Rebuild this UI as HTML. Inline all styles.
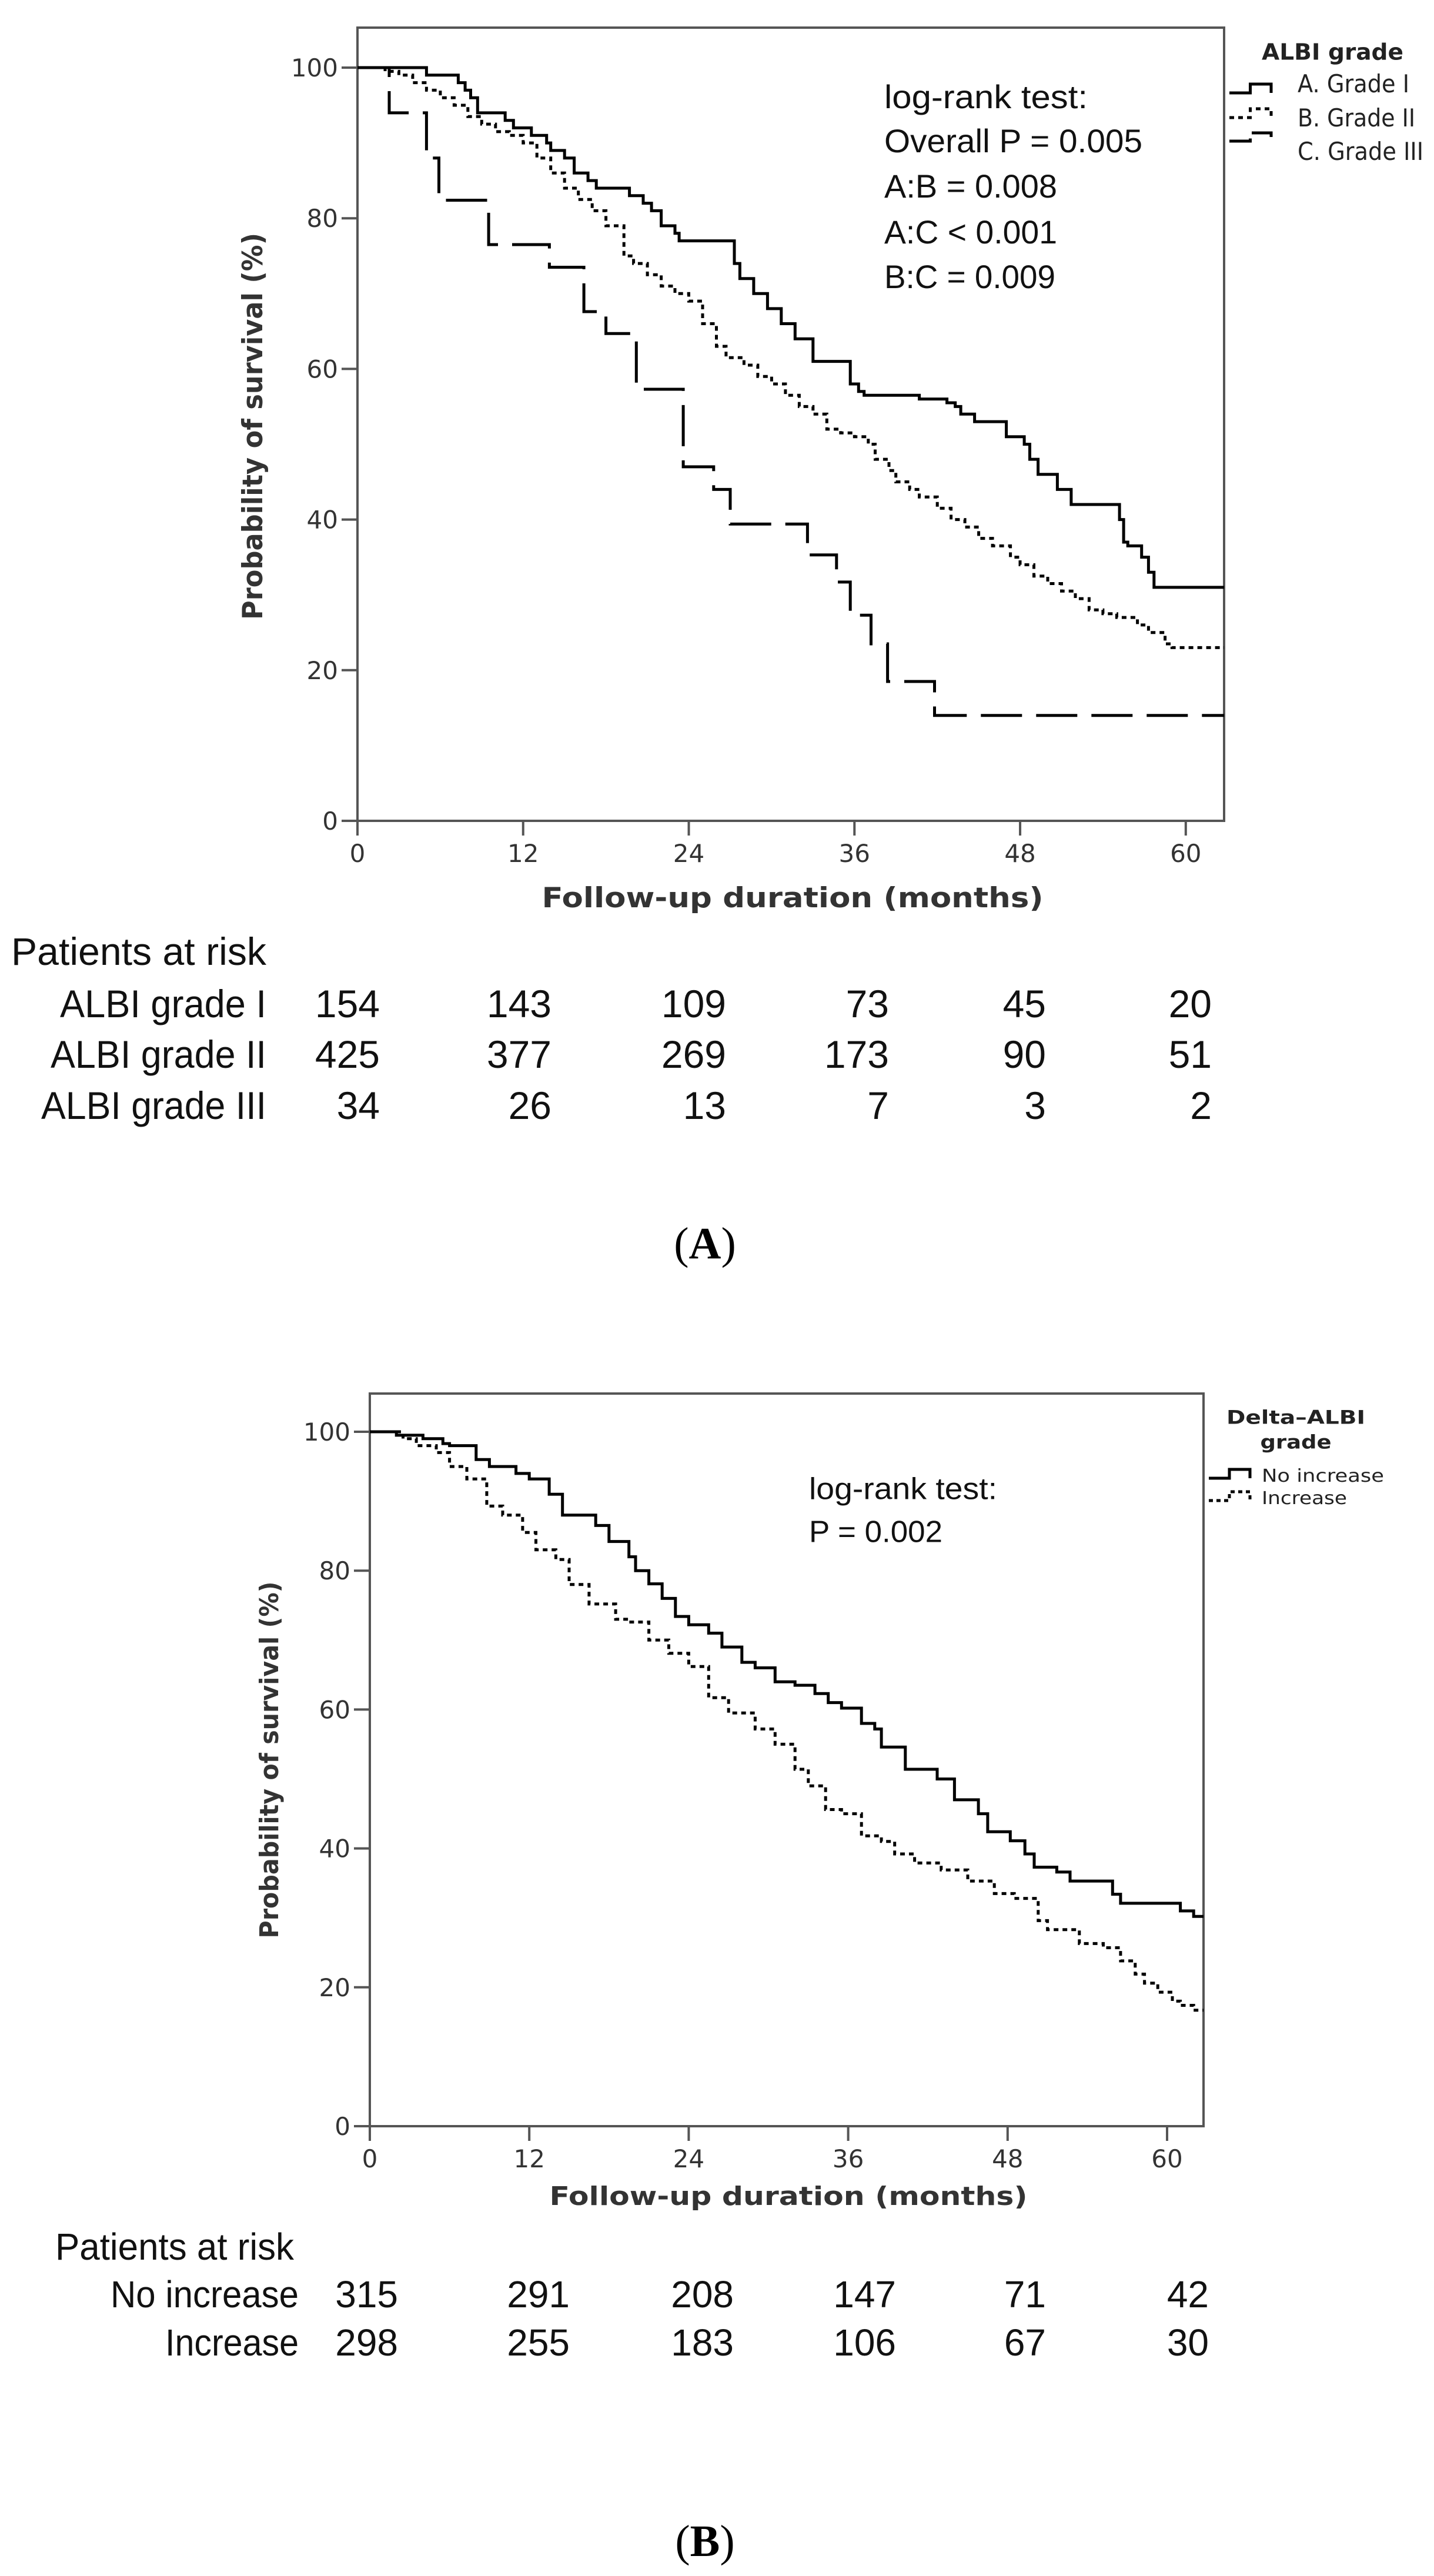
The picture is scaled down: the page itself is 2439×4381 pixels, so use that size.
<!DOCTYPE html>
<html><head><meta charset="utf-8"><style>
html,body{margin:0;padding:0;background:#fff;}
svg{display:block;}
text{fill:#222;}
.tk{font-family:"DejaVu Sans","Liberation Sans",sans-serif;font-size:42px;fill:#333;}
.ttl{font-family:"DejaVu Sans","Liberation Sans",sans-serif;font-weight:bold;fill:#333;}
.lg{font-family:"DejaVu Sans","Liberation Sans",sans-serif;fill:#222;}
.tx{font-family:"Liberation Sans",sans-serif;fill:#111;}
.cap{font-family:"Liberation Serif",serif;font-size:76px;fill:#000;}
</style></head><body>
<svg id="fig" width="2439" height="4381" viewBox="0 0 2439 4381" xmlns="http://www.w3.org/2000/svg">
<rect width="2439" height="4381" fill="#fff"/>
<g id="chartA"></g>
<g id="chartB"></g>
<text class="cap" x="1199" y="2140" text-anchor="middle">(<tspan font-weight="bold">A</tspan>)</text>
<text class="cap" x="1199" y="4347" text-anchor="middle">(<tspan font-weight="bold">B</tspan>)</text>
</svg>
<script>
// ---------- data: chart A ----------
const xTicks = [0, 12, 24, 36, 48, 60];
const yTicks = [0, 20, 40, 60, 80, 100];
const gradeI_t = [0,5,7.3,7.8,8.2,8.7,10.7,11.3,12.6,13.7,14,15,15.7,16.7,17.3,19.7,20.7,21.3,22,23,23.3,27.3,27.7,28.7,29.7,30.7,31.7,33,34,35.7,36.3,36.7,40.7,42.7,43.3,43.7,44.7,47,48.3,48.7,49.3,50.7,51.7,55.2,55.5,55.8,56.8,57.3,57.7];
const gradeI_s = [100,99,98,97,96,94,93,92,91,90,89,88,86,85,84,83,82,81,79,78,77,74,72,70,68,66,64,61,61,58,57,56.5,56,55.5,55,54,53,51,50,48,46,44,42,40,37,36.5,35,33,31];
const gradeII_t = [0,2,3,4,5,6,7,8,9,10,11,12,13,14,15,16,17,18,19.3,20,21,22,23,24,25,26,26.7,28,29,30,31,32,33,34,35,36,37,37.5,38.5,39,40,40.7,42,43,44,45,46,47.3,48,49,50,51,52,53,54,55,56.5,57.3,58.5,59];
const gradeII_s = [100,99.5,99,98,97,96,95,93.5,92.5,91.5,91,90,88,86,84,82.5,81,79,75,74,72.5,71,70,69,66,63,61.5,60.5,59,58,56.5,55,54,52,51.5,51,50,48,46.5,45,44,43,41.5,40,39,37.5,36.5,35,34,32.5,31.5,30.5,29.5,28,27.5,27,26,25,23.5,23];
const gradeIII_t = [0,2.3,5,5.9,9.5,13.9,16.4,18,20.2,23.6,25.8,27,32.6,34.7,35.7,37.2,38.4,41.8];
const gradeIII_s = [100,94,88,82.4,76.5,73.5,67.6,64.7,57.3,47,44,39.4,35.3,31.7,27.3,23.5,18.5,14];
const riskA_rows = ["ALBI grade I","ALBI grade II","ALBI grade III"];
const riskA_I = [154,143,109,73,45,20];
const riskA_II = [425,377,269,173,90,51];
const riskA_III = [34,26,13,7,3,2];
// ---------- data: chart B ----------
const noInc_t = [0,2,4,5.5,6,8,9,11,12,13.5,14.5,17,18,19.5,20,21,22,23,24,25.5,26.5,28,29,30.5,32,33.5,34.5,35.5,37,38,38.5,40.3,42.7,44,45.8,46.5,48.2,49.3,50,51.7,52.7,55.9,56.5,61,62];
const noInc_s = [100,99.5,99,98.3,98,96,95,94,93.2,91,88,86.5,84.2,82,80,78.1,76,73.4,72.2,71,69,66.8,66,64,63.5,62.3,61,60.2,58,57.2,54.6,51.4,50,47,45,42.4,41.1,39.2,37.3,36.6,35.3,33.4,32.1,31,30.2];
const inc_t = [0,2.5,3.5,5,6,7.3,8.8,10,11.5,12.5,14,15,16.5,18.5,19.5,21,22.5,24,25.5,27,29,30.5,32,33,34.3,35.5,37,38.5,39.5,41,43,45,47,48.5,50.3,51,53.4,55.2,56.5,57.6,58.3,59.3,60.4,61,62];
const inc_s = [100,99,98,97,95,93.2,89.3,88,85.5,83,81.6,78,75.2,73,72.6,70,68.1,66.2,61.7,59.5,57.2,55,51.4,49,45.6,45,41.8,41,39.2,37.9,36.9,35.3,33.5,32.8,29.6,28.3,26.3,25.7,23.8,21.9,20.6,19.3,18,17.4,16.7];
const riskB_rows = ["No increase","Increase"];
const riskB_no = [315,291,208,147,71,42];
const riskB_inc = [298,255,183,106,67,30];

const NS = "http://www.w3.org/2000/svg";
function mk(parent, tag, attrs, txt){
  const e = document.createElementNS(NS, tag);
  for (const k in attrs) e.setAttribute(k, attrs[k]);
  if (txt !== undefined) e.textContent = txt;
  parent.appendChild(e);
  return e;
}
function stepPath(t, s, X, Y, tEnd){
  let d = "M" + X(t[0]).toFixed(1) + " " + Y(s[0]).toFixed(1);
  for (let i = 1; i < t.length; i++){
    d += " H" + X(t[i]).toFixed(1) + " V" + Y(s[i]).toFixed(1);
  }
  d += " H" + X(tEnd).toFixed(1);
  return d;
}

function drawChart(g, cfg){
  const X = m => cfg.x0 + m * cfg.pxm;
  const Y = p => cfg.y0 - p * cfg.pxp;
  const tEnd = (cfg.right - cfg.x0) / cfg.pxm;
  const frame = mk(g, "rect", {x:cfg.x0, y:cfg.top, width:cfg.right-cfg.x0, height:cfg.y0-cfg.top, fill:"none", stroke:"#555", "stroke-width":4});
  
  
  yTicks.forEach(v => {
    const l = mk(g, "line", {x1:cfg.x0-27, x2:cfg.x0, y1:Y(v), y2:Y(v), stroke:"#555", "stroke-width":4});
    
    
    const t = mk(g, "text", {class:"tk", x:cfg.x0-33, y:Y(v)+15, "text-anchor":"end", "font-size":cfg.tk}, String(v));
    
    
  });
  xTicks.forEach(v => {
    const l = mk(g, "line", {x1:X(v), x2:X(v), y1:cfg.y0, y2:cfg.y0+25, stroke:"#555", "stroke-width":4});
    
    
    const t = mk(g, "text", {class:"tk", x:X(v), y:cfg.y0+70, "text-anchor":"middle", "font-size":cfg.tk}, String(v));
    
    
  });
  const xt = mk(g, "text", {class:"ttl", x:cfg.xtx, y:cfg.xty+16, "text-anchor":"middle", "font-size":cfg.tf, textLength:cfg.xtl, lengthAdjust:"spacingAndGlyphs"}, "Follow-up duration (months)");
  
  
  const yt = mk(g, "text", {class:"ttl", x:0, y:0, "text-anchor":"middle", "font-size":cfg.tf, textLength:cfg.ytl, lengthAdjust:"spacingAndGlyphs", transform:"translate("+(cfg.ytx+16)+","+cfg.yty+") rotate(-90)"}, "Probability of survival (%)");
  
  
  cfg.series.forEach(sr => {
    const p = mk(g, "path", {d:stepPath(sr.t, sr.s, X, Y, tEnd), fill:"none", stroke:"#000", "stroke-width":5, "stroke-dasharray":sr.dash, "stroke-linejoin":"miter"});
    
    
  });
  cfg.stats.forEach((s, i) => {
    const t = mk(g, "text", {class:"tx", x:cfg.sx, y:cfg.sy[i]+cfg.sf*0.36, "font-size":cfg.sf, textLength:s[1], lengthAdjust:"spacingAndGlyphs"}, s[0]);
    
    
  });
  // at-risk table
  const h = mk(g, "text", {class:"tx", x:cfg.rhx, y:cfg.rhy+cfg.rf*0.36, "font-size":cfg.rf, textLength:cfg.rhl, lengthAdjust:"spacingAndGlyphs"}, "Patients at risk");
  
  
  cfg.rows.forEach((r, i) => {
    const lab = mk(g, "text", {class:"tx", x:cfg.rlx, y:cfg.ry[i]+cfg.rf*0.36, "text-anchor":"end", "font-size":cfg.rf, textLength:cfg.rll[i], lengthAdjust:"spacingAndGlyphs"}, r);
    
    
    cfg.rvals[i].forEach((v, j) => {
      const n = mk(g, "text", {class:"tx", x:cfg.rnx[j], y:cfg.ry[i]+cfg.rf*0.36, "text-anchor":"end", "font-size":cfg.rf}, String(v));
      
      
    });
  });
}

const gA = document.getElementById("chartA");
drawChart(gA, {
  x0:608, pxm:23.48, y0:1396, pxp:12.81, top:47, right:2082, tk:43, tf:47,
  xtx:1348, xty:1527, xtl:853, ytx:430, yty:725, ytl:658,
  series:[
    {t:gradeI_t, s:gradeI_s, dash:"none", name:"curve-grade-i"},
    {t:gradeII_t, s:gradeII_s, dash:"8,7", name:"curve-grade-ii"},
    {t:gradeIII_t, s:gradeIII_s, dash:"70,24", name:"curve-grade-iii"}],
  stats:[["log-rank test:",346],["Overall P = 0.005",439],["A:B = 0.008",294],["A:C < 0.001",294],["B:C = 0.009",291]],
  sx:1504, sy:[164,239,316,394,470], sf:56,
  rhx:19, rhy:1617, rhl:434, rf:66, rlx:453, ry:[1706,1792,1879], rll:[351,367,383],
  rows:riskA_rows, rvals:[riskA_I, riskA_II, riskA_III], rnx:[646,938,1235,1512,1779,2061]
});
const gB = document.getElementById("chartB");
drawChart(gB, {
  x0:629, pxm:22.6, y0:3616, pxp:11.81, top:2370, right:2047, tk:40, tf:44,
  xtx:1341, xty:3734, xtl:813, ytx:457, yty:2993, ytl:607,
  series:[
    {t:noInc_t, s:noInc_s, dash:"none", name:"curve-no-increase"},
    {t:inc_t, s:inc_s, dash:"8,7", name:"curve-increase"}],
  stats:[["log-rank test:",320],["P = 0.002",227]],
  sx:1376, sy:[2531,2604], sf:52,
  rhx:94, rhy:3820, rhl:406, rf:64, rlx:508, ry:[3901,3983], rll:[320,227],
  rows:riskB_rows, rvals:[riskB_no, riskB_inc], rnx:[677,969,1248,1524,1779,2056]
});

// legends
function legendText(g, x, y, txt, size, w, bold, anchor, name){
  const t = mk(g, "text", {class:"lg", x:x, y:y+size*0.36, "font-size":size, textLength:w, lengthAdjust:"spacingAndGlyphs", "font-weight":bold?"bold":"normal", "text-anchor":anchor||"start"}, txt);
  
  
}
function legendSym(g, x1, x2, yl, yh, dash, name){
  const xm = (x1 + x2) / 2;
  const p = mk(g, "path", {d:"M"+x1+" "+yl+" H"+xm+" V"+yh+" H"+x2+" V"+(yl), fill:"none", stroke:"#000", "stroke-width":5, "stroke-dasharray":dash});
  
  
}
const lgA = mk(gA, "g", {});


legendText(lgA, 2146, 88, "ALBI grade", 38, 241, true, "start", "legend-title");
legendText(lgA, 2207, 142, "A. Grade I", 42, 190, false, "start", "legend-entry-grade-i");
legendText(lgA, 2207, 200, "B. Grade II", 42, 200, false, "start", "legend-entry-grade-ii");
legendText(lgA, 2207, 257, "C. Grade III", 42, 214, false, "start", "legend-entry-grade-iii");
legendSym(lgA, 2091, 2162, 158, 143, "none", "legend-symbol-grade-i");
legendSym(lgA, 2091, 2162, 200, 185, "8,7", "legend-symbol-grade-ii");
legendSym(lgA, 2091, 2162, 240, 226, "40,12", "legend-symbol-grade-iii");
const lgB = mk(gB, "g", {});


legendText(lgB, 2204, 2410, "Delta–ALBI", 32, 236, true, "middle", "legend-title");
legendText(lgB, 2204, 2452, "grade", 32, 121, true, "middle", "legend-title-line2");
legendText(lgB, 2146, 2509, "No increase", 30, 208, false, "start", "legend-entry-no-increase");
legendText(lgB, 2146, 2547, "Increase", 30, 145, false, "start", "legend-entry-increase");
legendSym(lgB, 2056, 2126, 2514, 2499, "none", "legend-symbol-no-increase");
legendSym(lgB, 2056, 2126, 2552, 2537, "7,6", "legend-symbol-increase");
</script>
</body></html>
